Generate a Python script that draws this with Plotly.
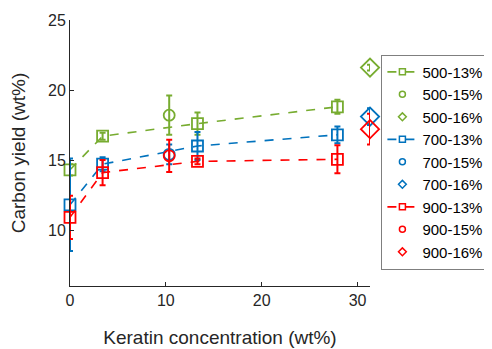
import plotly.graph_objects as go

# x positions (keratin concentration, wt%)
x13 = [0, 3.4, 13.3, 27.9]
x15 = [10.35]
x16 = [31.3]

# 500 C
y500_13 = [14.3, 16.7, 17.6, 18.8]
e500_13 = [0.4, 0.25, 0.8, 0.5]
y500_15 = [18.2]
e500_15 = [1.4]
y500_16 = [21.6]
e500_16 = [0.2]

# 700 C
y700_13 = [11.8, 14.7, 16.0, 16.8]
e700_13 = [3.3, 0.5, 1.0, 0.6]
y700_15 = [15.4]
e700_15 = [0.7]
y700_16 = [18.1]
e700_16 = [0.6]

# 900 C
y900_13 = [10.9, 14.1, 14.9, 15.05]
e900_13 = [1.55, 0.9, 0.2, 1.0]
y900_15 = [15.3]
e900_15 = [1.15]
y900_16 = [17.2]
e900_16 = [1.1]

GREEN = "#77AC30"
BLUE = "#0072BD"
RED = "#FF0000"

series = [
    ("500-13%", x13, y500_13, e500_13, GREEN, "square-open", True),
    ("500-15%", x15, y500_15, e500_15, GREEN, "circle-open", False),
    ("500-16%", x16, y500_16, e500_16, GREEN, "diamond-open", False),
    ("700-13%", x13, y700_13, e700_13, BLUE, "square-open", True),
    ("700-15%", x15, y700_15, e700_15, BLUE, "circle-open", False),
    ("700-16%", x16, y700_16, e700_16, BLUE, "diamond-open", False),
    ("900-13%", x13, y900_13, e900_13, RED, "square-open", True),
    ("900-15%", x15, y900_15, e900_15, RED, "circle-open", False),
    ("900-16%", x16, y900_16, e900_16, RED, "diamond-open", False),
]

fig = go.Figure()
for name, xs, ys, es, col, sym, line in series:
    size = 14 if sym.startswith("diamond") else 11
    fig.add_trace(go.Scatter(
        x=xs, y=ys, name=name, showlegend=False, legendgroup=name,
        mode="lines+markers" if line else "markers",
        line=dict(color=col, width=1.6, dash="dash"),
        marker=dict(symbol=sym, size=size, color=col, line=dict(width=1.8, color=col)),
        error_y=dict(type="data", array=es, visible=True, color=col, thickness=2, width=3),
        cliponaxis=False,
    ))

# legend-only entries with small symbols (as in the reference legend)
for name, xs, ys, es, col, sym, line in series:
    fig.add_trace(go.Scatter(
        x=[None], y=[None], name=name, legendgroup=name,
        mode="lines+markers" if line else "markers",
        line=dict(color=col, width=1.6, dash="dash"),
        marker=dict(symbol=sym, size=6, color=col, line=dict(width=1.5, color=col)),
    ))

fig.update_layout(
    width=484, height=341,
    margin=dict(l=62, r=122, t=12, b=63, autoexpand=False),
    paper_bgcolor="white", plot_bgcolor="white",
    font=dict(family="Liberation Sans, Arial, sans-serif", size=16, color="#262626"),
    showlegend=True,
    legend=dict(
        x=1.038, y=0.87, xanchor="left", yanchor="top",
        bordercolor="#7f7f7f", borderwidth=1, bgcolor="white",
        font=dict(size=15, color="#000000"),
        tracegroupgap=0, itemwidth=30,
    ),
    xaxis=dict(
        range=[0, 31.3], tickvals=[0, 10, 20, 30],
        showline=True, linecolor="#262626", linewidth=1,
        ticks="inside", ticklen=4, tickcolor="#262626",
        showgrid=False, zeroline=False, automargin=False,
        title=dict(text="Keratin concentration (wt%)", font=dict(size=19), standoff=22),
        tickfont=dict(size=16),
    ),
    yaxis=dict(
        range=[6, 25], tickvals=[10, 15, 20, 25],
        showline=True, linecolor="#262626", linewidth=1,
        ticks="inside", ticklen=4, tickcolor="#262626",
        showgrid=False, zeroline=False, automargin=False,
        title=dict(text="Carbon yield (wt%)", font=dict(size=19), standoff=17),
        tickfont=dict(size=16),
    ),
)

fig.write_html("out.html")
